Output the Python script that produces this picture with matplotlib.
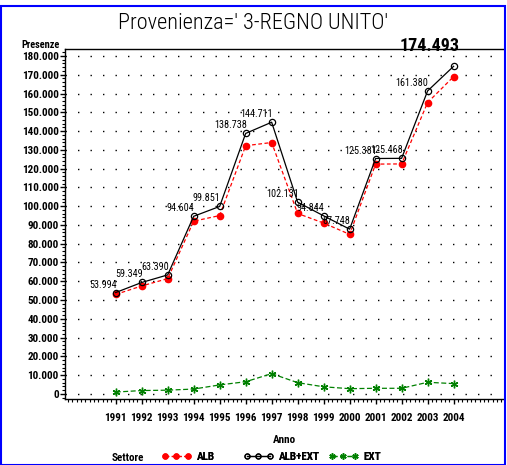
import matplotlib
matplotlib.use('Agg')
import matplotlib.pyplot as plt
from matplotlib.ticker import FuncFormatter, MultipleLocator, AutoMinorLocator
from matplotlib.patches import Rectangle

plt.rcParams['font.family'] = ['Roboto Condensed', 'DejaVu Sans']

years = [1991, 1992, 1993, 1994, 1995, 1996, 1997, 1998, 1999, 2000, 2001, 2002, 2003, 2004]
alb_ext = [53994, 59349, 63390, 94604, 99851, 138738, 144711, 102131, 94844, 87748,
           125381, 125468, 161380, 174493]
alb = [53000, 57500, 61400, 92000, 95000, 132200, 133900, 96100, 91000, 85000,
       122400, 122500, 155200, 169000]
ext = [1000, 1800, 2000, 2600, 4800, 6500, 10800, 6000, 3800, 2800, 3000, 3000, 6200, 5500]


def it_fmt(v):
    return f'{int(v):,}'.replace(',', '.')


fig = plt.figure(figsize=(5.07, 4.65), dpi=100)
ax = fig.add_axes([65 / 507, 1 - 399 / 465, 438 / 507, 350 / 465])

l1, = ax.plot(years, alb, color='red', ls=(0, (3, 2)), lw=0.9, marker='o', ms=4.5,
              mfc='red', mec='red', label='ALB')
l2, = ax.plot(years, alb_ext, color='black', ls='-', lw=0.9, marker='o', ms=4.5,
              mfc='none', mec='black', mew=0.9, label='ALB+EXT')
l3, = ax.plot(years, ext, color='green', ls=(0, (4, 2)), lw=0.9, marker=(6, 2, 0), ms=5.5,
              mec='green', mew=1, label='EXT')

# value labels on ALB+EXT
for x, v in zip(years[:-1], alb_ext[:-1]):
    ax.annotate(it_fmt(v), (x, v), xytext=(1, 5), textcoords='offset pixels',
                ha='right', va='baseline', fontsize=7.3)
ax.annotate(it_fmt(alb_ext[-1]), (years[-1], alb_ext[-1]), xytext=(6, 15),
            textcoords='offset pixels', ha='right', va='baseline', fontsize=13,
            fontweight='bold', annotation_clip=False)

ax.set_xlim(1989.05, 2005.9)
ax.set_ylim(-2700, 183700)
ax.set_xticks(years)
ax.set_xticklabels([str(y) for y in years])
ax.xaxis.set_minor_locator(AutoMinorLocator(6))
ax.yaxis.set_major_locator(MultipleLocator(10000))
ax.yaxis.set_minor_locator(AutoMinorLocator(5))
ax.yaxis.set_major_formatter(FuncFormatter(lambda v, p: '0' if v == 0 else it_fmt(v)))
ax.tick_params(axis='both', which='major', direction='out', length=3.5, width=1,
               labelsize=8)
ax.tick_params(axis='both', which='minor', direction='out', length=2, width=0.8)
ax.tick_params(axis='x', pad=6.5)
ax.tick_params(axis='y', pad=1)
for lab in ax.get_yticklabels() + ax.get_xticklabels():
    lab.set_fontweight('bold')

ax.yaxis.grid(True, color='black', ls=(0, (1, 8)), lw=1)
ax.spines['right'].set_visible(False)
for s in ['left', 'bottom', 'top']:
    ax.spines[s].set_linewidth(1)

ax.set_xlabel('Anno', fontsize=8, fontweight='bold', labelpad=9)
fig.text(60 / 507, 1 - 48 / 465, 'Presenze', ha='right', va='baseline',
         fontsize=7.5, fontweight='bold')

fig.suptitle("Provenienza=' 3-REGNO UNITO'", x=253 / 507, y=1 - 29 / 465,
             va='baseline', fontsize=16, fontweight='light')

fig.text(112 / 507, 1 - 461 / 465, 'Settore', ha='left', va='baseline',
         fontsize=8, fontweight='bold')
for h, x0 in zip([l1, l2, l3], [162, 244, 329]):
    leg = fig.legend(handles=[h], loc='center left',
                     bbox_to_anchor=(x0 / 507, 1 - 457 / 465), frameon=False,
                     numpoints=3, handlelength=2.6, handletextpad=0.5, markerscale=0.8,
                     prop={'size': 8, 'weight': 'bold'}, borderpad=0, borderaxespad=0)
    fig.add_artist(leg)

fig.add_artist(Rectangle((1 / 507, 0), 504 / 507, 1 - 6 / 465, transform=fig.transFigure,
                         fill=False, edgecolor='blue', lw=1.5))

fig.savefig('out.png', dpi=100)
